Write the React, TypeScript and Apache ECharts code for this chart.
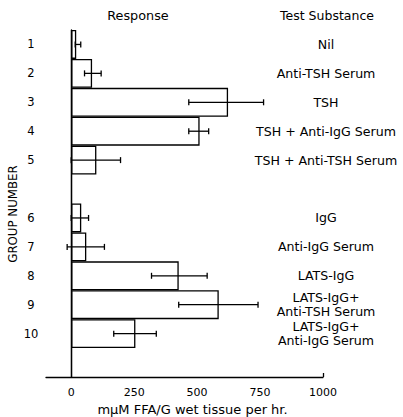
import React, { useEffect, useRef } from "react";
import * as echarts from "echarts";

// Group numbers, with an empty slot between groups 5 and 6 and one after group 10
const slotLabels = ["1", "2", "3", "4", "5", "", "6", "7", "8", "9", "10", " "];
const substances = [
  "Nil",
  "Anti-TSH Serum",
  "TSH",
  "TSH + Anti-IgG Serum",
  "TSH + Anti-TSH Serum",
  "",
  "IgG",
  "Anti-IgG Serum",
  "LATS-IgG",
  "LATS-IgG+\nAnti-TSH Serum",
  "LATS-IgG+\nAnti-IgG Serum",
  "",
];
// Mean response per group (mμM FFA/G wet tissue per hr.)
const responses = [20, 83, 623, 510, 100, 40, 60, 427, 586, 255];
const errLow = [16, 53, 467, 467, 0, 0, -16, 319, 427, 169];
const errHigh = [38, 119, 764, 546, 196, 69, 132, 540, 742, 338];
const xTicks = [0, 250, 500, 750, 1000];

const FONT = "DejaVu Sans";

// groups 6-10 sit one slot lower because of the gap after group 5
const slotOf = (i: number) => (i < 5 ? i : i + 1);

export default function App() {
  const ref = useRef<HTMLDivElement>(null);

  useEffect(() => {
    if (!ref.current) return;
    const chart = echarts.init(ref.current, null, { renderer: "svg" });

    const barData: any[] = slotLabels.map(() => "-");
    responses.forEach((v, i) => {
      barData[slotOf(i)] = v;
    });
    const errData = responses.map((_, i) => [errLow[i], errHigh[i], slotOf(i)]);

    chart.setOption({
      animation: false,
      backgroundColor: "#fff",
      textStyle: { fontFamily: FONT, color: "#000" },
      grid: { left: 46, right: 80, top: 30, bottom: 40, outerBoundsMode: "none" },
      xAxis: {
        type: "value",
        min: -100,
        max: 1000,
        splitLine: { show: false },
        axisLine: { show: true, lineStyle: { color: "#000", width: 1.3 } },
        axisTick: {
          show: true,
          inside: true,
          length: 4,
          customValues: [1000],
          lineStyle: { color: "#000", width: 1.3 },
        },
        axisLabel: {
          customValues: xTicks,
          formatter: (v: number) => String(v),
          color: "#000",
          fontFamily: FONT,
          fontSize: 11,
          margin: 10,
        },
        name: "mμM FFA/G wet tissue per hr.",
        nameLocation: "middle",
        nameGap: 30,
        nameTextStyle: {
          color: "#000",
          fontFamily: FONT,
          fontSize: 13,
          verticalAlign: "middle",
          padding: [0, 0, 0, 16],
        },
      },
      yAxis: [
        {
          type: "category",
          data: slotLabels,
          inverse: true,
          axisLine: { show: true, lineStyle: { color: "#000", width: 1.3 } },
          axisTick: { show: false },
          axisLabel: {
            color: "#000",
            fontFamily: FONT,
            fontSize: 11.5,
            align: "center",
            margin: 15,
          },
        },
        {
          type: "category",
          data: substances,
          inverse: true,
          position: "right",
          axisLine: { show: false },
          axisTick: { show: false },
          axisLabel: {
            color: "#000",
            fontFamily: FONT,
            fontSize: 12.6,
            align: "center",
            margin: 3,
            lineHeight: 14,
          },
        },
      ],
      graphic: [
        {
          type: "text",
          x: 138,
          y: 15,
          style: {
            text: "Response",
            fill: "#000",
            font: `12.8px ${FONT}`,
            align: "center",
            verticalAlign: "middle",
          },
        },
        {
          type: "text",
          x: 327,
          y: 15,
          style: {
            text: "Test Substance",
            fill: "#000",
            font: `12.5px ${FONT}`,
            align: "center",
            verticalAlign: "middle",
          },
        },
        {
          type: "text",
          x: 13,
          y: 214,
          rotation: Math.PI / 2,
          style: {
            text: "GROUP NUMBER",
            fill: "#000",
            font: `11.8px ${FONT}`,
            align: "center",
            verticalAlign: "middle",
          },
        },
      ],
      series: [
        {
          type: "bar",
          data: barData,
          barWidth: "100%",
          barCategoryGap: 0,
          itemStyle: { color: "#fff", borderColor: "#000", borderWidth: 1.3 },
          markLine: {
            silent: true,
            symbol: "none",
            label: { show: false },
            lineStyle: { color: "#000", width: 1.3, type: "solid" },
            data: [{ xAxis: 0 }],
          },
        },
        {
          type: "custom",
          data: errData,
          encode: { x: [0, 1], y: 2 },
          renderItem: (params: any, api: any) => {
            const lo = api.coord([api.value(0), api.value(2)]);
            const hi = api.coord([api.value(1), api.value(2)]);
            const cap = 3;
            const style = { stroke: "#000", lineWidth: 1.3 };
            return {
              type: "group",
              children: [
                { type: "line", shape: { x1: lo[0], y1: lo[1], x2: hi[0], y2: hi[1] }, style },
                { type: "line", shape: { x1: lo[0], y1: lo[1] - cap, x2: lo[0], y2: lo[1] + cap }, style },
                { type: "line", shape: { x1: hi[0], y1: hi[1] - cap, x2: hi[0], y2: hi[1] + cap }, style },
              ],
            };
          },
          z: 3,
        },
      ],
    });

    return () => chart.dispose();
  }, []);

  return (
    <div
      ref={ref}
      style={{ position: "fixed", left: 0, top: 0, width: 403, height: 417 }}
    />
  );
}
